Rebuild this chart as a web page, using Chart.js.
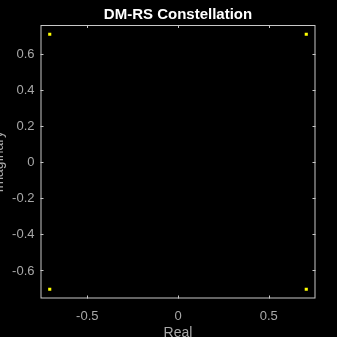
<!DOCTYPE html>
<html>
<head>
<meta charset="utf-8">
<script src="https://cdn.jsdelivr.net/npm/chart.js@4.4.0/dist/chart.umd.min.js"></script>
<style>
  html, body { margin: 0; padding: 0; background: #000; overflow: hidden; }
  #wrap { position: absolute; left: -8px; top: 0; width: 345px; height: 337px; }
</style>
</head>
<body>
<div id="wrap"><canvas id="chart" width="345" height="337"></canvas></div>
<script>
// constellation points (QPSK DM-RS)
const realVals = [-0.7071, 0.7071, -0.7071, 0.7071];
const imagVals = [0.7071, 0.7071, -0.7071, -0.7071];

// axes
const xTicks = [-0.5, 0, 0.5];
const xTickLabels = ['-0.5', '0', '0.5'];
const yTicks = [-0.6, -0.4, -0.2, 0, 0.2, 0.4, 0.6];
const yTickLabels = ['-0.6', '-0.4', '-0.2', '0', '0.2', '0.4', '0.6'];
const axLim = 0.758;

const axisColor = '#c8c8c8';
const labelColor = '#a8a8a8';

const points = realVals.map((r, i) => ({ x: r, y: imagVals[i] }));

// box + inward ticks, matlab style
const boxPlugin = {
    id: 'box',
    afterDraw(chart) {
        const ctx = chart.ctx;
        const a = chart.chartArea;
        const xs = chart.scales.x, ys = chart.scales.y;
        ctx.save();
        ctx.strokeStyle = axisColor;
        ctx.lineWidth = 1;
        ctx.strokeRect(a.left + 0.5, a.top + 0.5, a.right - a.left - 1, a.bottom - a.top - 1);
        ctx.beginPath();
        xTicks.forEach(v => {
            const px = Math.round(xs.getPixelForValue(v)) + 0.5;
            ctx.moveTo(px, a.bottom); ctx.lineTo(px, a.bottom - 3);
            ctx.moveTo(px, a.top); ctx.lineTo(px, a.top + 3);
        });
        yTicks.forEach(v => {
            const py = Math.round(ys.getPixelForValue(v)) + 0.5;
            ctx.moveTo(a.left, py); ctx.lineTo(a.left + 3, py);
            ctx.moveTo(a.right, py); ctx.lineTo(a.right - 3, py);
        });
        ctx.stroke();
        ctx.restore();
    }
};

const bgPlugin = {
    id: 'bg',
    beforeDraw(chart) {
        const ctx = chart.ctx;
        ctx.save();
        ctx.fillStyle = '#000';
        ctx.fillRect(0, 0, chart.width, chart.height);
        ctx.restore();
    }
};

new Chart(document.getElementById('chart'), {
    type: 'scatter',
    data: {
        datasets: [{
            data: points,
            backgroundColor: '#ffff00',
            borderWidth: 0,
            pointStyle: 'rect',
            pointRadius: 2.2,
            pointHoverRadius: 2.2
        }]
    },
    options: {
        responsive: false,
        animation: false,
        layout: { padding: { left: 0, right: 21.5, top: 0, bottom: 0 } },
        plugins: {
            legend: { display: false },
            tooltip: { enabled: false },
            title: {
                display: true,
                fullSize: false,
                text: 'DM-RS Constellation',
                color: '#ffffff',
                font: { family: 'Liberation Sans, Arial, sans-serif', size: 15, weight: 'bold', lineHeight: 1.2 },
                padding: { top: 6, bottom: 1 }
            }
        },
        scales: {
            x: {
                type: 'linear',
                min: -axLim,
                max: axLim,
                afterBuildTicks: s => { s.ticks = xTicks.map(v => ({ value: v })); },
                afterFit: s => { s.height = 38.5; },
                grid: { display: false, drawTicks: false },
                border: { display: false },
                ticks: {
                    color: labelColor,
                    padding: 10,
                    font: { family: 'Liberation Sans, Arial, sans-serif', size: 13 },
                    callback: (v, i) => xTickLabels[i]
                },
                title: {
                    display: true,
                    text: 'Real',
                    color: labelColor,
                    font: { family: 'Liberation Sans, Arial, sans-serif', size: 14, lineHeight: 0.6 },
                    padding: 0
                }
            },
            y: {
                type: 'linear',
                min: -axLim,
                max: axLim,
                afterBuildTicks: s => { s.ticks = yTicks.map(v => ({ value: v })); },
                afterFit: s => { s.width = 48.5; },
                grid: { display: false, drawTicks: false },
                border: { display: false },
                ticks: {
                    color: labelColor,
                    padding: 6,
                    labelOffset: 1,
                    font: { family: 'Liberation Sans, Arial, sans-serif', size: 13 },
                    callback: (v, i) => yTickLabels[i]
                },
                title: {
                    display: true,
                    text: 'Imaginary',
                    color: labelColor,
                    font: { family: 'Liberation Sans, Arial, sans-serif', size: 14, lineHeight: 1 },
                    padding: 0
                }
            }
        }
    },
    plugins: [bgPlugin, boxPlugin]
});
</script>
</body>
</html>
